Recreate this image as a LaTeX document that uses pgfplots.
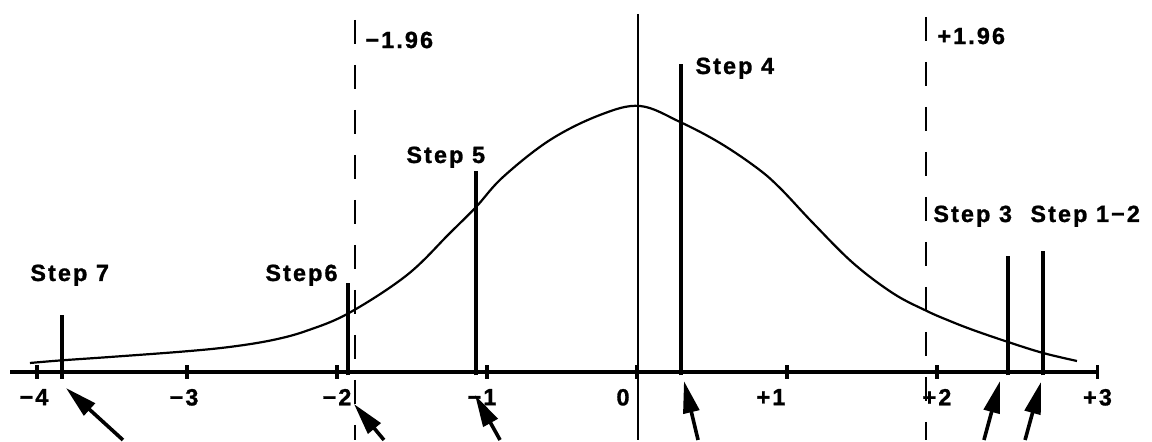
\documentclass[border=0pt]{standalone}
\usepackage{fontspec}
\setmainfont{Liberation Sans}[LetterSpace=9, BoldFont={Liberation Sans Bold}, BoldFeatures={FakeBold=1.2}]
\usepackage{pgfplots}
\pgfplotsset{compat=1.18}
\usetikzlibrary{arrows.meta}
\newcommand{\lbl}{\fontsize{11.7bp}{14bp}\selectfont\bfseries}
\begin{document}
\begin{tikzpicture}
\begin{axis}[
  scale only axis, width=544bp, height=220bp,
  xmin=-4.18, xmax=3.073, ymin=-0.102, ymax=0.558,
  axis x line=middle, axis y line=none,
  x axis line style={-, line width=2bp},
  hide obscured x ticks=false,
  xtick={-4,-3,-2,-1,0,1,2,3.07},
  xticklabels={{−4\kern3bp},{−3\kern3bp},−2,{−1\kern5bp},{0\kern14bp},{+1\kern16bp},+2,+3},
  xticklabel style={font=\lbl, yshift=-1.5bp},
  tick align=center, major tick length=7bp,
  every tick/.style={black, line width=1.7bp},
  ytick=\empty,
  clip=false,
]
% invisible frame for bounding box
\addplot[draw=none] coordinates {(-4.2467,-0.102) (3.4333,0.558)};
% curve
\addplot[line width=1.1bp, smooth, tension=0.6] coordinates {
(-4.047,0.0135) (-3.833,0.0175) (-3.513,0.0225) (-3.007,0.031) (-2.7,0.038) (-2.427,0.048)
(-2.2,0.062) (-1.92,0.0885) (-1.533,0.1455) (-1.247,0.2085) (-1.073,0.2475)
(-0.893,0.2925) (-0.58,0.348) (-0.247,0.3855) (0.02,0.399) (0.287,0.375)
(0.553,0.3435) (0.80,0.306) (0.953,0.276) (1.173,0.2235) (1.44,0.1635)
(1.707,0.118) (1.927,0.092) (2.08,0.077) (2.24,0.063) (2.473,0.045) (2.707,0.0285) (2.933,0.0165)};
% step lines
\addplot[line width=1.6bp] coordinates {(-3.833,-0.01) (-3.833,0.0855)};
\addplot[line width=1.6bp] coordinates {(-1.927,-0.005) (-1.927,0.1335)};
\addplot[line width=1.6bp] coordinates {(-1.073,-0.005) (-1.073,0.3015)};
\addplot[line width=1.6bp] coordinates {(0.293,-0.005) (0.293,0.462)};
\addplot[line width=1.6bp] coordinates {(2.473,-0.005) (2.473,0.174)};
\addplot[line width=1.6bp] coordinates {(2.707,-0.005) (2.707,0.1815)};
% center line
\addplot[line width=1.3bp] coordinates {(0.007,0.537) (0.007,-0.102)};
% dashed critical lines
\addplot[line width=1.2bp, dash pattern=on 12bp off 10.5bp] coordinates {(-1.88,0.528) (-1.88,-0.102)};
\addplot[line width=1.2bp, dash pattern=on 12bp off 10.5bp] coordinates {(1.927,0.5325) (1.927,-0.102)};
% arrows
\addplot[line width=1.8bp, -{Triangle[length=16bp,width=8bp]}] coordinates {(-3.427,-0.102) (-3.807,-0.024)};
\addplot[line width=1.8bp, -{Triangle[length=16bp,width=8bp]}] coordinates {(-1.687,-0.102) (-1.887,-0.048)};
\addplot[line width=1.8bp, -{Triangle[length=16bp,width=8bp]}] coordinates {(-0.913,-0.102) (-1.08,-0.0345)};
\addplot[line width=1.8bp, -{Triangle[length=16bp,width=8bp]}] coordinates {(0.407,-0.102) (0.313,-0.0135)};
\addplot[line width=1.8bp, -{Triangle[length=16bp,width=8bp]}] coordinates {(2.313,-0.102) (2.42,-0.0135)};
\addplot[line width=1.8bp, -{Triangle[length=16bp,width=8bp]}] coordinates {(2.587,-0.102) (2.693,-0.015)};
% labels
\node[anchor=west, font=\lbl, inner sep=0pt] at (axis cs:-1.813,0.498) {−1.96};
\node[anchor=west, font=\lbl, inner sep=0pt] at (axis cs:2.0,0.504) {+1.96};
\node[anchor=base west, font=\lbl, inner sep=0pt] at (axis cs:0.387,0.447) {Step 4};
\node[anchor=base west, font=\lbl, inner sep=0pt] at (axis cs:-1.54,0.3135) {Step 5};
\node[anchor=base west, font=\lbl, inner sep=0pt] at (axis cs:-2.48,0.1365) {Step6};
\node[anchor=base west, font=\lbl, inner sep=0pt] at (axis cs:-4.047,0.1365) {Step 7};
\node[anchor=base west, font=\lbl, inner sep=0pt] at (axis cs:1.973,0.225) {Step 3};
\node[anchor=base west, font=\lbl, inner sep=0pt] at (axis cs:2.62,0.225) {Step 1−2};
\end{axis}
\end{tikzpicture}
\end{document}
